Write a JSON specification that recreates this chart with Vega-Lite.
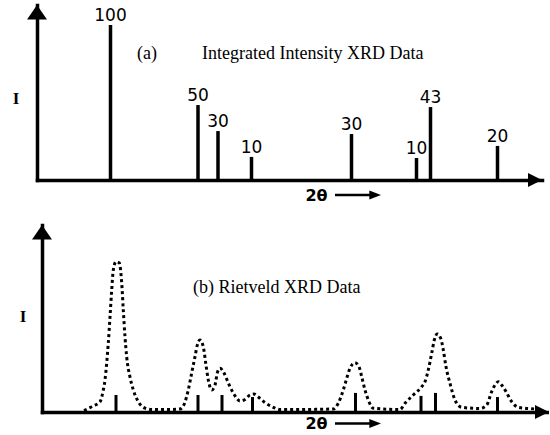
{
  "$schema": "https://vega.github.io/schema/vega-lite/v6.json",
  "padding": {"left": 12, "top": 5, "right": 0, "bottom": 0},
  "background": "white",
  "bounds": "flush",
  "spacing": 45,
  "config": {"view": {"stroke": null}},
  "datasets": {
    "one": [{}],
    "sticks": [
      {"two_theta": 14.7, "intensity": 100.1, "label": "100"},
      {"two_theta": 32.2, "intensity": 48.4, "label": "50"},
      {"two_theta": 36.2, "intensity": 31.6, "label": "30"},
      {"two_theta": 42.9, "intensity": 14.9, "label": "10"},
      {"two_theta": 62.9, "intensity": 29.7, "label": "30"},
      {"two_theta": 75.9, "intensity": 14.2, "label": "10"},
      {"two_theta": 78.7, "intensity": 47.1, "label": "43"},
      {"two_theta": 92.1, "intensity": 22.0, "label": "20"}
    ],
    "ticks": [
      {"two_theta": 14.8, "intensity": 9.1},
      {"two_theta": 31.2, "intensity": 9.1},
      {"two_theta": 36.0, "intensity": 9.1},
      {"two_theta": 42.1, "intensity": 8.0},
      {"two_theta": 62.7, "intensity": 10.2},
      {"two_theta": 75.8, "intensity": 8.6},
      {"two_theta": 78.7, "intensity": 10.2},
      {"two_theta": 91.1, "intensity": 8.0}
    ],
    "profile": [
      {"two_theta": 8.4, "intensity": 0.8},
      {"two_theta": 10.2, "intensity": 3.2},
      {"two_theta": 11.6, "intensity": 5.5},
      {"two_theta": 12.26, "intensity": 11.8},
      {"two_theta": 12.6, "intensity": 17.1},
      {"two_theta": 12.94, "intensity": 26.2},
      {"two_theta": 13.26, "intensity": 36.9},
      {"two_theta": 13.6, "intensity": 50.8},
      {"two_theta": 13.94, "intensity": 65.2},
      {"two_theta": 14.26, "intensity": 75.9},
      {"two_theta": 14.8, "intensity": 80.4},
      {"two_theta": 15.46, "intensity": 79.7},
      {"two_theta": 15.94, "intensity": 69.0},
      {"two_theta": 16.26, "intensity": 54.5},
      {"two_theta": 16.6, "intensity": 40.1},
      {"two_theta": 16.94, "intensity": 29.4},
      {"two_theta": 17.6, "intensity": 18.7},
      {"two_theta": 18.26, "intensity": 11.8},
      {"two_theta": 19.26, "intensity": 5.5},
      {"two_theta": 20.6, "intensity": 2.1},
      {"two_theta": 22.2, "intensity": 1.3},
      {"two_theta": 25.6, "intensity": 1.3},
      {"two_theta": 27.6, "intensity": 1.6},
      {"two_theta": 28.6, "intensity": 5.3},
      {"two_theta": 29.26, "intensity": 11.8},
      {"two_theta": 29.94, "intensity": 20.9},
      {"two_theta": 30.6, "intensity": 29.6},
      {"two_theta": 31.06, "intensity": 35.8},
      {"two_theta": 31.6, "intensity": 38.5},
      {"two_theta": 32.26, "intensity": 34.9},
      {"two_theta": 32.74, "intensity": 26.2},
      {"two_theta": 33.26, "intensity": 17.1},
      {"two_theta": 33.94, "intensity": 11.8},
      {"two_theta": 34.6, "intensity": 14.4},
      {"two_theta": 35.06, "intensity": 20.9},
      {"two_theta": 35.6, "intensity": 23.4},
      {"two_theta": 36.4, "intensity": 20.9},
      {"two_theta": 37.26, "intensity": 15.5},
      {"two_theta": 38.26, "intensity": 10.2},
      {"two_theta": 39.6, "intensity": 5.9},
      {"two_theta": 40.6, "intensity": 6.7},
      {"two_theta": 41.6, "intensity": 9.1},
      {"two_theta": 42.4, "intensity": 9.6},
      {"two_theta": 43.26, "intensity": 8.0},
      {"two_theta": 44.6, "intensity": 5.0},
      {"two_theta": 46.26, "intensity": 2.5},
      {"two_theta": 47.6, "intensity": 1.3},
      {"two_theta": 49.6, "intensity": 1.3},
      {"two_theta": 58.26, "intensity": 1.6},
      {"two_theta": 59.26, "intensity": 4.7},
      {"two_theta": 60.26, "intensity": 11.8},
      {"two_theta": 60.94, "intensity": 18.0},
      {"two_theta": 61.6, "intensity": 23.4},
      {"two_theta": 62.6, "intensity": 26.4},
      {"two_theta": 63.4, "intensity": 24.2},
      {"two_theta": 63.94, "intensity": 18.9},
      {"two_theta": 64.6, "intensity": 11.8},
      {"two_theta": 65.26, "intensity": 6.4},
      {"two_theta": 66.26, "intensity": 2.0},
      {"two_theta": 71.6, "intensity": 1.3},
      {"two_theta": 72.6, "intensity": 4.7},
      {"two_theta": 74.26, "intensity": 9.1},
      {"two_theta": 75.94, "intensity": 13.5},
      {"two_theta": 76.6, "intensity": 16.2},
      {"two_theta": 77.26, "intensity": 22.5},
      {"two_theta": 77.94, "intensity": 31.4},
      {"two_theta": 78.46, "intensity": 38.5},
      {"two_theta": 79.06, "intensity": 41.7},
      {"two_theta": 79.74, "intensity": 39.4},
      {"two_theta": 80.26, "intensity": 33.2},
      {"two_theta": 80.8, "intensity": 24.2},
      {"two_theta": 81.6, "intensity": 15.3},
      {"two_theta": 82.6, "intensity": 6.4},
      {"two_theta": 83.94, "intensity": 2.5},
      {"two_theta": 87.6, "intensity": 1.9},
      {"two_theta": 88.94, "intensity": 3.7},
      {"two_theta": 89.94, "intensity": 10.9},
      {"two_theta": 90.6, "intensity": 14.4},
      {"two_theta": 91.26, "intensity": 16.2},
      {"two_theta": 91.94, "intensity": 14.4},
      {"two_theta": 92.8, "intensity": 10.9},
      {"two_theta": 93.94, "intensity": 5.5},
      {"two_theta": 95.26, "intensity": 2.5},
      {"two_theta": 99.0, "intensity": 1.6}
    ]
  },
  "vconcat": [
    {
      "width": 505,
      "height": 175,
      "layer": [
        {
          "data": {"name": "sticks"},
          "mark": {"type": "rule", "strokeWidth": 3.5, "color": "black"},
          "encoding": {
            "x": {"field": "two_theta", "type": "quantitative", "title": "2θ",
              "scale": {"domain": [0, 101], "nice": false, "zero": false},
              "axis": {"domain": true, "domainColor": "black", "domainWidth": 3.5, "domainCap": "square", "ticks": false, "labels": false, "grid": false,
                "titleFont": "DejaVu Sans", "titleFontSize": 16, "titleFontWeight": "bold", "titleColor": "black",
                "titleX": 279, "titleY": 15, "titleAlign": "center", "titleBaseline": "middle"}},
            "y": {"field": "intensity", "type": "quantitative", "title": "I",
              "scale": {"domain": [0, 113], "nice": false, "zero": false},
              "axis": {"domain": true, "domainColor": "black", "domainWidth": 3.5, "domainCap": "square", "ticks": false, "labels": false, "grid": false,
                "titleFont": "Liberation Serif", "titleFontSize": 17, "titleFontWeight": "bold", "titleColor": "black", "titleAngle": 0,
                "titleX": -21.5, "titleY": 93, "titleAlign": "center", "titleBaseline": "middle"}},
            "y2": {"datum": 0}
          }
        },
        {
          "data": {"name": "sticks"},
          "mark": {"type": "text", "font": "DejaVu Sans", "fontSize": 17, "color": "black", "baseline": "alphabetic", "align": "center", "dy": -4},
          "encoding": {
            "x": {"field": "two_theta", "type": "quantitative", "title": "2θ"},
            "y": {"field": "intensity", "type": "quantitative", "title": "I"},
            "text": {"field": "label"}
          }
        },
        {
          "data": {"name": "one"},
          "mark": {"type": "text", "text": "(a)", "font": "Liberation Serif", "fontSize": 18, "color": "black", "align": "left", "baseline": "alphabetic"},
          "encoding": {"x": {"datum": 20}, "y": {"datum": 78.1}}
        },
        {
          "data": {"name": "one"},
          "mark": {"type": "text", "text": "Integrated Intensity XRD Data", "font": "Liberation Serif", "fontSize": 18, "color": "black", "align": "left", "baseline": "alphabetic"},
          "encoding": {"x": {"datum": 33}, "y": {"datum": 78.1}}
        },
        {
          "data": {"name": "one"},
          "mark": {"type": "point", "shape": "M0,0L1,1.45L-1,1.45Z", "size": 400, "filled": true, "opacity": 1, "color": "black", "strokeWidth": 0},
          "encoding": {"x": {"datum": 0}, "y": {"datum": 113}}
        },
        {
          "data": {"name": "one"},
          "mark": {"type": "point", "shape": "M0,0L-2,-1L-2,1Z", "size": 196, "filled": true, "opacity": 1, "color": "black", "strokeWidth": 0},
          "encoding": {"x": {"datum": 101}, "y": {"datum": 0}}
        },
        {
          "data": {"name": "one"},
          "mark": {"type": "rule", "strokeWidth": 2.5, "color": "black"},
          "encoding": {"x": {"datum": 59.6}, "x2": {"datum": 66.8}, "y": {"datum": -9.68}}
        },
        {
          "data": {"name": "one"},
          "mark": {"type": "point", "shape": "M0,0L-2.6,-1L-2.6,1Z", "size": 81, "filled": true, "opacity": 1, "color": "black", "strokeWidth": 0},
          "encoding": {"x": {"datum": 68.8}, "y": {"datum": -9.68}}
        }
      ]
    },
    {
      "width": 512,
      "height": 187,
      "layer": [
        {
          "data": {"name": "profile"},
          "mark": {"type": "line", "interpolate": "monotone", "strokeDash": [3, 3], "strokeWidth": 3, "color": "black", "strokeCap": "butt"},
          "encoding": {
            "x": {"field": "two_theta", "type": "quantitative", "title": "2θ",
              "scale": {"domain": [0, 101.4], "range": [5, 512], "nice": false, "zero": false},
              "axis": {"domain": true, "domainColor": "black", "domainWidth": 3.5, "domainCap": "square", "ticks": false, "labels": false, "grid": false,
                "titleFont": "DejaVu Sans", "titleFontSize": 16, "titleFontWeight": "bold", "titleColor": "black",
                "titleX": 279, "titleY": 11.5, "titleAlign": "center", "titleBaseline": "middle"}},
            "y": {"field": "intensity", "type": "quantitative", "title": "I",
              "scale": {"domain": [0, 100], "nice": false, "zero": false},
              "axis": {"offset": -5, "domain": true, "domainColor": "black", "domainWidth": 3.5, "domainCap": "square", "ticks": false, "labels": false, "grid": false,
                "titleFont": "Liberation Serif", "titleFontSize": 17, "titleFontWeight": "bold", "titleColor": "black", "titleAngle": 0,
                "titleX": -19.5, "titleY": 91.5, "titleAlign": "center", "titleBaseline": "middle"}}
          }
        },
        {
          "data": {"name": "ticks"},
          "mark": {"type": "rule", "strokeWidth": 3, "color": "black"},
          "encoding": {
            "x": {"field": "two_theta", "type": "quantitative", "title": "2θ"},
            "y": {"field": "intensity", "type": "quantitative", "title": "I"},
            "y2": {"datum": 0}
          }
        },
        {
          "data": {"name": "one"},
          "mark": {"type": "text", "text": "(b) Rietveld XRD Data", "font": "Liberation Serif", "fontSize": 18, "color": "black", "align": "left", "baseline": "alphabetic"},
          "encoding": {"x": {"datum": 30.2}, "y": {"datum": 63.6}}
        },
        {
          "data": {"name": "one"},
          "mark": {"type": "point", "shape": "M0,0L1,1.45L-1,1.45Z", "size": 400, "filled": true, "opacity": 1, "color": "black", "strokeWidth": 0},
          "encoding": {"x": {"datum": 0}, "y": {"datum": 100}}
        },
        {
          "data": {"name": "one"},
          "mark": {"type": "point", "shape": "M0,0L-2,-1L-2,1Z", "size": 196, "filled": true, "opacity": 1, "color": "black", "strokeWidth": 0},
          "encoding": {"x": {"datum": 101.4}, "y": {"datum": 0}}
        },
        {
          "data": {"name": "one"},
          "mark": {"type": "rule", "strokeWidth": 2.5, "color": "black"},
          "encoding": {"x": {"datum": 58.6}, "x2": {"datum": 65.8}, "y": {"datum": -6.15}}
        },
        {
          "data": {"name": "one"},
          "mark": {"type": "point", "shape": "M0,0L-2.6,-1L-2.6,1Z", "size": 81, "filled": true, "opacity": 1, "color": "black", "strokeWidth": 0},
          "encoding": {"x": {"datum": 67.8}, "y": {"datum": -6.15}}
        }
      ]
    }
  ]
}
